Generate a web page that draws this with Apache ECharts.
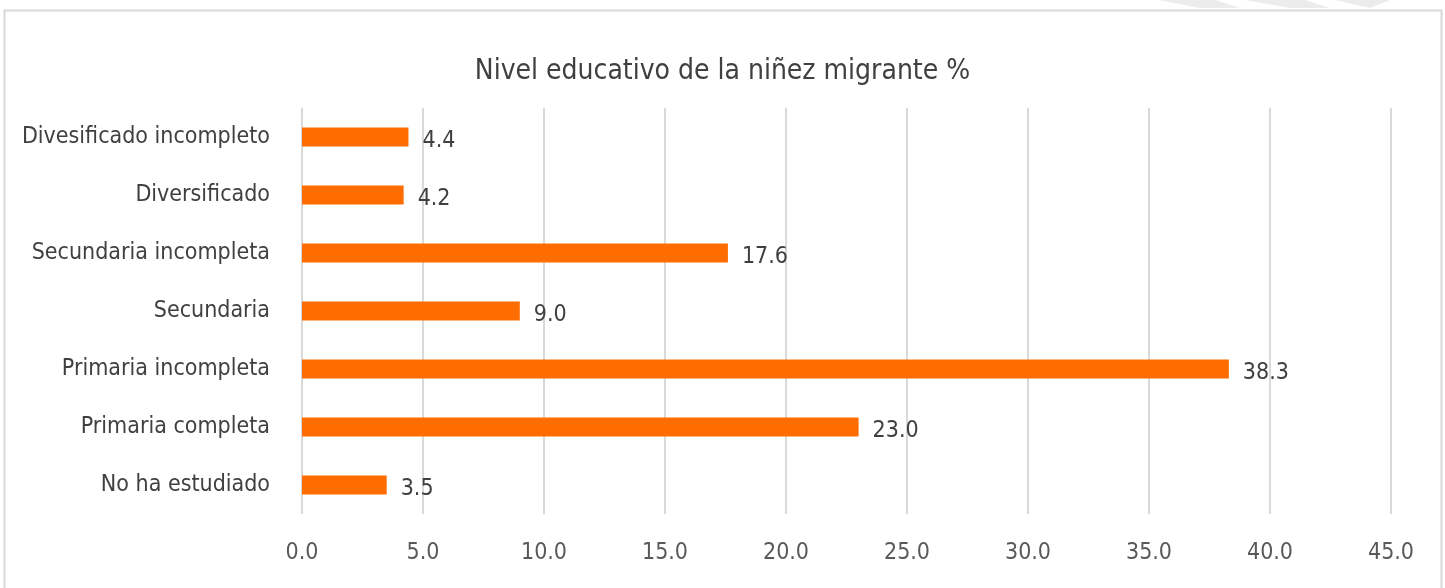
<!DOCTYPE html>
<html>
<head>
<meta charset="utf-8">
<script src="https://cdn.jsdelivr.net/npm/echarts@6/dist/echarts.min.js"></script>
<style>
  html, body { margin: 0; padding: 0; background: #fff; }
  #root { width: 1445px; height: 588px; }
</style>
</head>
<body>
<div id="root"></div>
<script>
  // datos (de arriba hacia abajo, el eje se invierte)
  const categories = ['Divesificado incompleto', 'Diversificado', 'Secundaria incompleta', 'Secundaria', 'Primaria incompleta', 'Primaria completa', 'No ha estudiado'];
  const values = [4.4, 4.2, 17.6, 9.0, 38.3, 23.0, 3.5];
  const titleText = 'Nivel educativo de la niñez migrante %';

  const FONT = '"Liberation Sans Narrow", "DejaVu Sans Condensed", sans-serif';

  let myChart = echarts.init(document.querySelector('#root'));

  let option = {
    backgroundColor: '#fff',
    animation: false,
    title: {
      text: titleText,
      left: 'center',
      top: 53,
      textStyle: { fontFamily: FONT, fontSize: 28, fontWeight: 'normal', color: '#404040' }
    },
    graphic: [
      // marco del gráfico
      { type: 'rect', shape: { x: 4.5, y: 10.5, width: 1437, height: 600 }, style: { fill: 'none', stroke: '#d9d9d9', lineWidth: 2 } },
      // franjas decorativas arriba a la derecha
      { type: 'polygon', shape: { points: [[1158, 0], [1215, 0], [1240, 8], [1200, 8]] }, style: { fill: '#ececec' } },
      { type: 'polygon', shape: { points: [[1245, 0], [1305, 0], [1330, 8], [1290, 8]] }, style: { fill: '#ececec' } },
      { type: 'polygon', shape: { points: [[1335, 0], [1390, 0], [1370, 8]] }, style: { fill: '#ececec' } }
    ],
    grid: { left: 302, right: 54, top: 108, bottom: 74 },
    xAxis: {
      type: 'value',
      min: 0,
      max: 45,
      interval: 5,
      axisLine: { show: false },
      axisTick: { show: false },
      splitLine: { lineStyle: { color: '#d9d9d9', width: 2 } },
      axisLabel: {
        formatter: v => v.toFixed(1),
        fontFamily: FONT, fontSize: 23, color: '#595959', margin: 28
      }
    },
    yAxis: {
      type: 'category',
      data: categories,
      inverse: true,
      axisLine: { show: false },
      axisTick: { show: false },
      axisLabel: { fontFamily: FONT, fontSize: 23, color: '#404040', margin: 32 }
    },
    series: [{
      type: 'bar',
      data: values,
      barWidth: 19,
      itemStyle: { color: '#ff6d00' },
      label: {
        show: true,
        position: 'right',
        distance: 14,
        formatter: p => p.value.toFixed(1),
        fontFamily: FONT, fontSize: 23, color: '#404040',
        offset: [0, 4]
      }
    }]
  };

  myChart.setOption(option);
</script>
</body>
</html>
